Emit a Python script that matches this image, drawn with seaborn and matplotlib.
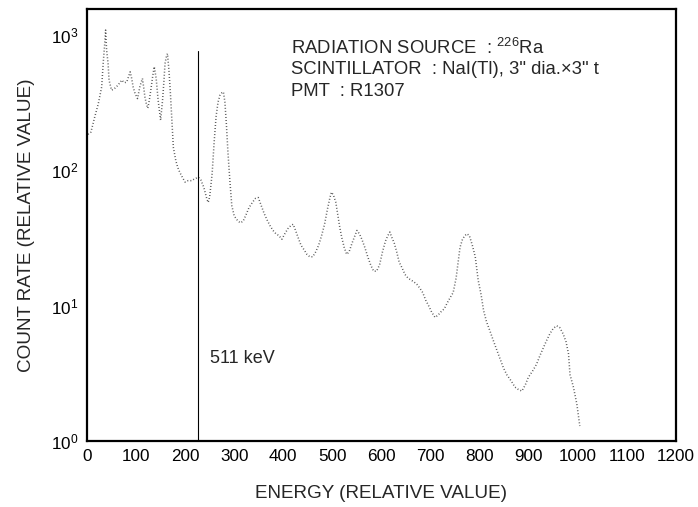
import numpy as np
import pandas as pd
import matplotlib
matplotlib.use("Agg")
import matplotlib.pyplot as plt
import seaborn as sns

# spectrum (energy in relative units, count rate)
energy = [2, 8, 16, 23, 30, 33, 36, 38, 40, 43, 45, 50, 55, 60, 66, 71, 76, 81, 88, 91,
          94, 98, 103, 108, 113, 116, 118, 121, 124, 127, 130, 134, 137, 141, 145, 148, 150, 152, 154, 157,
          159, 162, 164, 167, 170, 173, 176, 181, 185, 189, 195, 200, 206, 213, 220, 227, 232, 238, 244, 247,
          250, 255, 259, 263, 267, 271, 275, 278, 281, 284, 287, 291, 295, 300, 306, 312, 318, 324, 330, 337,
          343, 349, 355, 361, 367, 373, 379, 385, 391, 397, 403, 409, 415, 420, 425, 430, 436, 442, 448, 454,
          460, 466, 472, 478, 484, 490, 495, 498, 502, 507, 511, 515, 519, 524, 529, 534, 540, 546, 550, 555,
          560, 566, 572, 578, 584, 590, 596, 602, 608, 613, 617, 621, 626, 631, 636, 642, 648, 654, 660, 666,
          672, 678, 684, 690, 696, 702, 709, 715, 721, 728, 734, 740, 746, 752, 757, 760, 765, 770, 774, 779,
          785, 791, 797, 803, 808, 814, 821, 828, 835, 842, 848, 855, 865, 872, 879, 886, 893, 899, 908, 916,
          923, 930, 936, 943, 950, 957, 963, 970, 976, 981, 984, 991, 998, 1004]
counts = [185, 192, 250, 310, 415, 617, 850, 1090, 775, 617, 465, 392, 400, 415, 440, 465, 445, 450, 535, 480,
          415, 370, 340, 420, 478, 400, 350, 310, 288, 330, 392, 500, 585, 478, 330, 270, 235, 280, 330, 470,
          617, 700, 730, 550, 370, 235, 148, 118, 105, 97, 88, 82, 84, 84, 87, 89, 85, 75, 62, 58,
          64, 95, 160, 250, 320, 360, 375, 380, 320, 220, 140, 85, 55, 46, 43, 41, 42, 47, 53, 58,
          62, 63, 55, 48, 43, 39, 36, 34, 33, 31, 34, 37, 39, 40, 36, 32, 28, 26, 24, 23,
          23, 25, 28, 33, 40, 52, 63, 69, 66, 58, 47, 38, 32, 27, 24, 25, 29, 33, 36, 34,
          31, 27, 23, 20, 18, 18, 20, 25, 30, 33, 35, 32, 29, 25, 21, 19, 17, 16, 15.5, 15,
          14.4, 13.5, 12.5, 11, 10, 9, 8.2, 8.5, 9, 9.5, 10.5, 11.5, 12.5, 16, 22, 27, 31, 33, 34, 33,
          28, 23, 15.4, 12, 9.2, 7.6, 6.5, 5.5, 4.7, 4, 3.5, 3.1, 2.75, 2.5, 2.4, 2.34, 2.6, 2.95, 3.3, 3.7,
          4.3, 4.9, 5.5, 6.2, 6.8, 7.1, 6.9, 6.2, 5.4, 4.4, 3.1, 2.5, 1.87, 1.29]

marker_energy = 227
marker_top = 770
marker_label = "511 keV"
x_ticks = list(range(0, 1300, 100))
info_lines = [
    "RADIATION SOURCE  : $^{\\mathregular{226}}$Ra",
    "SCINTILLATOR  : NaI(Tl), 3\" dia.\u00d73\" t",
    "PMT  : R1307",
]

sns.set_style("white")
plt.rcParams["font.family"] = ["Liberation Sans", "DejaVu Sans"]
plt.rcParams["mathtext.fontset"] = "custom"
plt.rcParams["mathtext.rm"] = "Liberation Sans"
plt.rcParams["mathtext.it"] = "Liberation Sans"
plt.rcParams["mathtext.bf"] = "Liberation Sans"

df = pd.DataFrame({"energy": energy, "counts": counts})

fig = plt.figure(figsize=(6.98, 5.07), dpi=100)
ax = fig.add_axes([0.1246, 0.1302, 0.8439, 0.852])

sns.lineplot(data=df, x="energy", y="counts", ax=ax, color="#505050",
             linestyle=(0, (0.6, 1.4)), linewidth=1.1, sort=False)

ax.set_yscale("log")
ax.set_xlim(0, 1200)
ax.set_ylim(1, 1560)
ax.set_xticks(x_ticks)
ax.set_yticks([1, 10, 100, 1000])
ax.minorticks_off()
ax.tick_params(axis="both", direction="in", length=6.5, width=1, labelsize=12.3,
               colors="black")
ax.tick_params(axis="x", pad=6)
ax.tick_params(axis="y", pad=6)

for s in ax.spines.values():
    s.set_linewidth(1.6)
    s.set_color("black")

ax.plot([marker_energy, marker_energy], [1, marker_top], color="black", lw=0.8)
ax.text(250, 4.05, marker_label, fontsize=13, ha="left", va="center")

for i, line in enumerate(info_lines):
    ax.text(0.347, 0.91 - i * 0.051, line, transform=ax.transAxes,
            fontsize=13.3, ha="left", va="center")

ax.set_xlabel("ENERGY (RELATIVE VALUE)", fontsize=13.6, labelpad=15)
ax.set_ylabel("COUNT RATE (RELATIVE VALUE)", fontsize=13.6, labelpad=12)

fig.savefig("out.png", dpi=100)
